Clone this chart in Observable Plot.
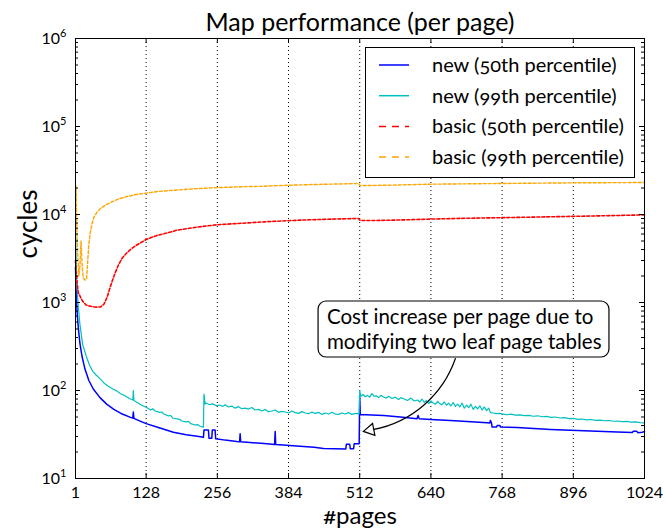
<!DOCTYPE html>
<html><head><meta charset="utf-8">
<script src="https://cdn.jsdelivr.net/npm/d3@7"></script>
<script src="https://cdn.jsdelivr.net/npm/@observablehq/plot@0.6"></script>
<style>
html,body{margin:0;padding:0;background:#fff;}
#chart{width:666px;height:531px;}
</style></head><body><div id="chart"></div>
<script>
const title = "Map performance (per page)";
const xLabel = "#pages";
const yLabel = "cycles";
const xTicks = [1,128,256,384,512,640,768,896,1024];
const yTicks = [1e1,1e2,1e3,1e4,1e5,1e6];
const seriesNames = ["new (50th percentile)","new (99th percentile)","basic (50th percentile)","basic (99th percentile)"];
const seriesColors = ["#0000ff","#00bfbf","#ff0000","#ffa500"];

// [page, cycles]
const newP50 = [[1,2500],[2,1500],[3,1000],[4,760],[6,520],[9,340],[13,240],[18,175],[25,130],[33,104],[45,83],[57,70],[70,61],[85,54],[100,49.5],[104,48.5],[105,57],[106,48.2],[115,45.5],[128,42],[150,38],[177,33.6],[200,31.5],[220,30.2],[231,29.4],[232,35.5],[240,35.5],[241,28.7],[246,28.7],[247,35.5],[252,35.5],[253,28.3],[270,27.3],[291,26.3],[296,26.2],[297,32.2],[298,26.1],[320,25.5],[340,25],[359,24.4],[360,34.2],[361,24.3],[380,23.8],[411,23.1],[430,22.6],[447,21.9],[487,21.7],[488,24.5],[494,24.5],[495,21.8],[501,21.8],[502,24.8],[511,24.8],[512,85],[513,53.5],[555,52],[585,50],[615,47.8],[617,52],[619,47.6],[640,46.8],[675,45.6],[705,44.5],[741,43],[746,42.8],[747,45.6],[749,42.5],[750,38.4],[758,38.4],[759,40],[764,40],[765,38.4],[795,38],[855,36.1],[915,34.8],[975,33.7],[1002,33.3],[1004,34.5],[1010,34.5],[1012,33.2],[1020,33.6],[1024,34.2]];

const newP99 = [[1,9000],[2,3500],[3,2000],[4,1400],[6,900],[9,560],[14,330],[20,250],[26,195],[32,165],[38,150],[44,138],[52,122],[60,112],[68,104],[75,99],[82,92],[90,87],[98,81],[104,78],[105,100],[106,77],[112,73],[120,68],[128,64.6],[136,60],[140,62],[144,58.5],[152,56.5],[156,57],[160,54],[168,51.5],[172,52],[176,48.4],[184,47.5],[188,47],[192,45],[200,44],[204,44.5],[208,42],[216,40.5],[220,41],[224,39.5],[231,38.4],[232,91],[234,70],[236,72],[242,69],[248,70.5],[254,67],[260,68.5],[266,66],[270,69],[276,65],[282,66.5],[288,63],[294,65.5],[300,62],[306,63],[312,61.5],[318,64],[324,60],[330,61],[336,58.5],[342,61],[348,57.5],[354,58.5],[360,60],[366,56.5],[372,58],[378,57],[384,55.5],[390,58.5],[396,56],[402,55],[408,57.5],[414,55.5],[420,54.5],[426,57],[432,55],[438,56.5],[444,53.5],[450,55.5],[456,54],[462,56.5],[468,54],[474,53.5],[480,55.5],[486,54],[492,56],[498,53.5],[504,55],[511,54.5],[512,100],[514,86],[518,90],[522,85],[526,88],[530,84],[534,92],[538,86],[542,87],[546,83],[550,88],[554,85],[560,82],[564,86],[570,81],[576,84],[582,79],[586,83],[592,80],[598,77],[604,82],[610,76],[616,78],[620,74],[624,80],[628,73],[632,77],[636,71],[640,76],[644,72],[648,70],[652,75],[656,71],[660,69],[664,74],[668,68],[672,72],[676,67],[680,73],[684,66],[688,70],[692,65],[696,72],[700,63],[704,68],[708,64],[712,70],[716,61],[720,66],[724,62],[728,67],[732,60],[736,65],[740,59],[744,63],[747,56],[752,55.5],[758,54.5],[764,55],[768,54.2],[776,53],[784,53.8],[792,52.4],[800,52.8],[808,51.8],[816,52.2],[824,51],[832,51.6],[840,50.3],[848,50.8],[856,49.6],[864,50],[872,48.7],[880,49.2],[888,47.9],[896,48.2],[904,47],[912,47.4],[920,46.4],[928,46.8],[936,45.8],[944,46.1],[952,45.3],[960,45.6],[968,44.7],[976,45],[984,44.2],[992,44.5],[1000,43.7],[1008,44],[1016,43.2],[1024,42.9]];

const basicP50 = [[1,3000],[2,2300],[4,1650],[6,1300],[10,1150],[14,1030],[20,935],[28,905],[38,885],[46,890],[52,955],[58,1150],[62,1400],[67,1750],[72,2150],[78,2650],[85,3200],[93,3650],[102,4100],[110,4450],[120,4850],[128,5200],[146,5750],[165,6150],[184,6650],[220,7200],[256,7650],[300,7950],[340,8250],[382,8500],[420,8700],[460,8850],[510,9020],[513,8550],[540,8550],[580,8650],[639,8870],[700,9050],[765,9200],[830,9350],[897,9530],[960,9700],[1024,9900]];

const basicP99 = [[1,15000],[2,21000],[3,9000],[5,3500],[7,2000],[9,2600],[11,5000],[13,2600],[15,1900],[18,1800],[21,1850],[23,3000],[25,4600],[28,6500],[31,8000],[34,9300],[40,10700],[46,11700],[55,12800],[64,13700],[78,15000],[94,16000],[110,16900],[128,17500],[150,18300],[184,19000],[220,19700],[256,20200],[300,20700],[334,20900],[382,21500],[440,22000],[510,22500],[513,21300],[560,21500],[639,22100],[700,22300],[765,22500],[830,22700],[897,22900],[960,23000],[1024,23100]];

const note = {
  text: "Cost increase per page due to\nmodifying two leaf page tables",
  tx: 453, ty: 507,
  bx1: 438, bx2: 961, by1: 237, by2: 1026,
  ax1: 684, ay1: 231, ax2: 537, ay2: 36.1,
  hx: 531, hy: 35.5
};

const seriesData = [newP50, newP99, basicP50, basicP99];
const dashed = [false, false, true, true];
const widths = [1.5, 1.2, 1.6, 1.4];

const W = 666, H = 531, mL = 75, mR = 22, mT = 38, mB = 53;
const fw = W - mL - mR, fh = H - mT - mB;

const minorY = [];
for (let k = 1; k <= 5; k++) for (let m = 2; m <= 9; m++) minorY.push(m * Math.pow(10, k));

const lineMarks = seriesData.map((s, i) => Plot.line(s, {
  x: d => d[0], y: d => d[1], stroke: seriesColors[i], strokeWidth: widths[i],
  strokeDasharray: dashed[i] ? "3,2" : null
}));

const chart = Plot.plot({
  width: W, height: H,
  marginLeft: mL, marginRight: mR, marginTop: mT, marginBottom: mB,
  style: {fontFamily: "Lato", fontSize: "16px", background: "white", color: "black", fontVariantNumeric: "oldstyle-nums"},
  x: {domain: [1, 1024]},
  y: {type: "log", domain: [10, 1e6]},
  marks: [
    Plot.ruleX(xTicks.slice(1, -1), {stroke: "black", strokeDasharray: "1,3", strokeWidth: 1}),
    ...lineMarks,
    Plot.frame({stroke: "black", strokeWidth: 1}),
    Plot.tickY(yTicks, {y: d => d, insetRight: fw - 5, stroke: "black"}),
    Plot.tickY(yTicks, {y: d => d, insetLeft: fw - 5, stroke: "black"}),
    Plot.tickY(minorY, {y: d => d, insetRight: fw - 3, stroke: "black"}),
    Plot.tickY(minorY, {y: d => d, insetLeft: fw - 3, stroke: "black"}),
    Plot.tickX(xTicks, {x: d => d, insetTop: fh - 5, stroke: "black"}),
    Plot.tickX(xTicks, {x: d => d, insetBottom: fh - 5, stroke: "black"}),
    Plot.axisX(xTicks, {tickSize: 0, tickPadding: 8, label: null, fontSize: 16, tickFormat: d => String(d)}),
    Plot.axisY(yTicks, {tickSize: 0, tickPadding: 9, label: null, fontSize: 16,
      tickFormat: d => "10^" + Math.round(Math.log10(d))}),
    Plot.rect([note], {x1: "bx1", x2: "bx2", y1: "by1", y2: "by2", rx: 8, fill: "white", stroke: "black", strokeWidth: 1.2}),
    Plot.text([note], {x: "tx", y: "ty", text: "text", textAnchor: "start", lineAnchor: "middle", fontSize: 20.5, lineHeight: 1.2, fill: "black"}),
    Plot.arrow([note], {x1: "ax1", y1: "ay1", x2: "ax2", y2: "ay2", bend: 30, headLength: 0, stroke: "black", strokeWidth: 1.2}),
    Plot.dot([note], {x: "hx", y: "hy", symbol: "triangle", r: 4.5, rotate: 259, fill: "white", stroke: "black", strokeWidth: 1.2}),
    Plot.text([title], {frameAnchor: "top", lineAnchor: "middle", dy: -16, fontSize: 25, fill: "black"}),
    Plot.text([xLabel], {frameAnchor: "bottom", lineAnchor: "middle", dy: 38, fontSize: 24, fill: "black"}),
    Plot.text([yLabel], {frameAnchor: "left", lineAnchor: "middle", dx: -47, rotate: -90, fontSize: 26, fill: "black"})
  ]
});

const svg = d3.select(chart);
svg.selectAll('g[aria-label="y-axis tick label"] text').each(function() {
  const s = d3.select(this);
  const parts = s.text().split("^");
  s.text(null);
  s.append("tspan").text(parts[0]);
  s.append("tspan").attr("dy", "-0.6em").attr("font-size", "11px").text(parts[1]);
});

// legend
const lg = svg.append("g").attr("font-size", 20).attr("font-family", "Lato").attr("text-anchor", "start");
const lx = mL + fw - 10 - 269, ly = mT + 9;
lg.append("rect").attr("x", lx + 0.5).attr("y", ly + 0.5).attr("width", 269).attr("height", 130)
  .attr("fill", "white").attr("stroke", "black");
seriesNames.forEach((n, i) => {
  const y = ly + 18 + i * 30.7;
  lg.append("line").attr("x1", lx + 14).attr("x2", lx + 44).attr("y1", y).attr("y2", y)
    .attr("stroke", seriesColors[i]).attr("stroke-width", 1.5)
    .attr("stroke-dasharray", dashed[i] ? "7,6" : null);
  lg.append("text").attr("x", lx + 67).attr("y", y).attr("dy", "0.35em").attr("fill", "black").attr("text-anchor", "start").text(n);
});

document.getElementById("chart").appendChild(chart);
</script></body></html>
